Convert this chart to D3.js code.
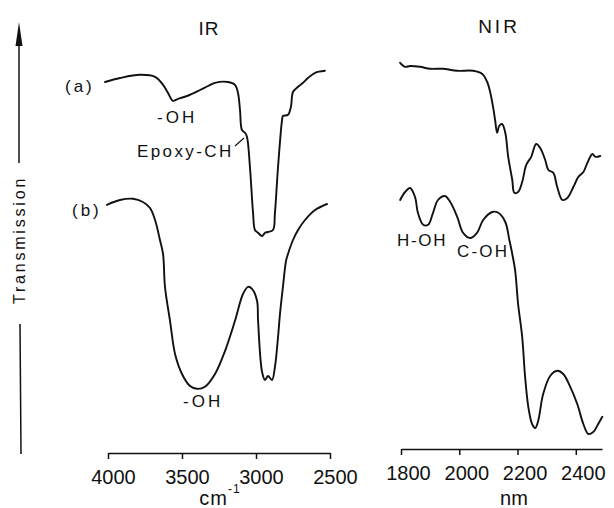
<!DOCTYPE html>
<html>
<head>
<meta charset="utf-8">
<script src="https://cdn.jsdelivr.net/npm/d3@7"></script>
<style>
  html, body { margin: 0; padding: 0; background: #fff; }
  svg { display: block; }
  text { font-family: "Liberation Sans", Arial, sans-serif; fill: #111; }
</style>
</head>
<body>
<svg id="chart" width="614" height="508"></svg>
<script>
// ---------- DATA ----------
// IR panel, wavenumber in cm^-1, transmission in arbitrary units (0-100)
const irAWavenumber = [4020,3919,3784,3682,3628,3595,3561,3527,3466,3378,3324,3277,3189,3142,3122,3108,3095,3074,3061,3041,3020,3007,2986,2959,2939,2919,2885,2872,2851,2824,2818,2784,2764,2750,2716,2682,2649,2601,2534];
const irATransmission = [94.5,95.5,96.3,95.8,93.8,91.8,89.8,90.3,91,92.5,93.5,94.3,94.5,93.8,91.8,87.5,82.5,81.8,80.8,73.3,61.8,57.5,56.8,56,56.8,57,57.5,61.8,73.3,85,86,86.3,88.3,92,93.3,94.3,95.5,96.8,97.3];

const irBWavenumber = [4007,3919,3831,3764,3716,3682,3649,3628,3615,3581,3547,3500,3446,3399,3345,3277,3209,3142,3088,3054,3027,2993,2986,2959,2939,2919,2892,2872,2851,2838,2818,2797,2784,2750,2716,2669,2601,2520];
const irBTransmission = [63.8,65,65.3,64.5,63,60,55,51.5,43.3,34.8,26.5,21.5,18.5,17.8,18.3,21.5,27.3,34.8,41.5,43.3,42.8,39.8,34.8,22,20,21,20,23.3,30.8,36.5,43.3,49.8,51.5,55,57.5,60,62.5,64];

// NIR panel, wavelength in nm
const nirAWavelength = [1797,1814,1831,1865,1900,1944,1993,2048,2079,2096,2106,2116,2123,2130,2137,2147,2158,2168,2182,2189,2202,2216,2230,2247,2264,2278,2295,2306,2323,2336,2354,2371,2392,2409,2426,2440,2457,2467,2484];
const nirATransmission = [99.3,98.3,98.5,98.3,97.8,97.8,97.3,97.3,96.5,94.5,92,88.3,85,81.8,83.5,84,81.8,75.8,70,66.8,67,69.5,73.8,75.8,79,78,75,72.5,71.8,68.3,65,65.5,68.3,70.8,72,74.3,76.5,75.8,76];

const nirBWavelength = [1797,1814,1831,1848,1858,1876,1893,1910,1927,1951,1969,1993,2013,2037,2061,2082,2113,2134,2158,2172,2182,2192,2202,2216,2226,2237,2250,2261,2271,2288,2312,2336,2357,2381,2405,2426,2443,2460,2477,2491];
const nirBTransmission = [65,67,68,65.8,61.8,58.8,58.8,61.8,65,66,64.5,60.8,56.8,55.5,56.8,60,62,61.8,59.5,55,51.5,47.3,39,30.8,20.8,13.3,9,8,9.8,16.5,21,22.3,21.5,18.3,14,9,6.5,7,9,10.8];

const irTicks = [4000, 3500, 3000, 2500];
const irTickLabels = ["4000", "3500", "3000", "2500"];
const nirTicks = [1800, 2000, 2200, 2400];
const nirTickLabels = ["1800", "2000", "2200", "2400"];

// ---------- DRAWING ----------
const svg = d3.select("#chart");
const ink = "#111";

const xIR = d3.scaleLinear().domain([4000, 2500]).range([108, 330]);
const xNIR = d3.scaleLinear().domain([1800, 2490]).range([401, 602]);
const y = d3.scaleLinear().domain([0, 100]).range([460, 60]);

function drawCurve(xs, ys, xScale) {
  const pts = xs.map((v, i) => [v, ys[i]]);
  const line = d3.line()
    .x(d => xScale(d[0]))
    .y(d => y(d[1]))
    .curve(d3.curveCatmullRom.alpha(0.5));
  svg.append("path")
    .attr("d", line(pts))
    .attr("fill", "none")
    .attr("stroke", ink)
    .attr("stroke-width", 1.9)
    .attr("stroke-linejoin", "round")
    .attr("stroke-linecap", "round");
}
drawCurve(irAWavenumber, irATransmission, xIR);
drawCurve(irBWavenumber, irBTransmission, xIR);
drawCurve(nirAWavelength, nirATransmission, xNIR);
drawCurve(nirBWavelength, nirBTransmission, xNIR);

// Axes
function styleAxis(g, dx) {
  g.select(".domain").attr("stroke", ink).attr("stroke-width", 1.5);
  g.selectAll(".tick line").attr("stroke", ink).attr("stroke-width", 1.5);
  g.selectAll(".tick text")
    .attr("fill", ink)
    .attr("dx", dx)
    .style("font-size", "20px")
    .style("font-family", '"Liberation Sans", Arial, sans-serif');
}
const irAxis = d3.axisBottom(xIR)
  .tickValues(irTicks)
  .tickFormat((d, i) => irTickLabels[i])
  .tickSize(6).tickSizeOuter(0).tickPadding(11);
svg.append("g").attr("transform", "translate(0,453)").call(irAxis)
  .call(g => styleAxis(g, 5));

const nirAxis = d3.axisBottom(xNIR)
  .tickValues(nirTicks)
  .tickFormat((d, i) => nirTickLabels[i])
  .tickSize(6).tickSizeOuter(0).tickPadding(11);
svg.append("g").attr("transform", "translate(0,449)").call(nirAxis)
  .call(g => styleAxis(g, 7));

// Axis unit labels
const cm = svg.append("text").attr("x", 220).attr("y", 505)
  .attr("text-anchor", "middle").style("font-size", "20px").style("letter-spacing", "1px");
cm.append("tspan").text("cm");
cm.append("tspan").attr("dy", -12).style("font-size", "12px").text("-1");

svg.append("text").attr("x", 514).attr("y", 505)
  .attr("text-anchor", "middle").style("font-size", "20px").text("nm");

// Vertical transmission arrow
svg.append("line").attr("x1", 19).attr("y1", 40).attr("x2", 19).attr("y2", 163)
  .attr("stroke", ink).attr("stroke-width", 1.5);
svg.append("line").attr("x1", 20).attr("y1", 324).attr("x2", 21).attr("y2", 454)
  .attr("stroke", ink).attr("stroke-width", 1.5);
svg.append("path").attr("d", "M19,22 L15.5,46 L22.5,46 Z").attr("fill", ink);
svg.append("text")
  .attr("transform", "translate(25,240) rotate(-90)")
  .attr("text-anchor", "middle")
  .style("font-size", "16px").style("letter-spacing", "2.8px")
  .text("Transmission");

// Panel titles
svg.append("text").attr("x", 209).attr("y", 35).attr("text-anchor", "middle")
  .style("font-size", "19px").style("letter-spacing", "1px").text("IR");
svg.append("text").attr("x", 499).attr("y", 33).attr("text-anchor", "middle")
  .style("font-size", "19px").style("letter-spacing", "3px").text("NIR");

// Annotations
function label(txt, x, yy, ls, anchor) {
  svg.append("text").attr("x", x).attr("y", yy)
    .attr("text-anchor", anchor || "start")
    .style("font-size", "17px").style("letter-spacing", ls + "px")
    .text(txt);
}
label("(a)", 65, 92, 3);
label("(b)", 72, 216, 3);
label("-OH", 157, 123, 3);
label("Epoxy-CH", 137, 157, 2.4);
label("-OH", 183, 407, 3);
label("H-OH", 397, 246, 1.7);
label("C-OH", 457, 257, 2.2);

// Leader line for Epoxy-CH
svg.append("line").attr("x1", 235).attr("y1", 146).attr("x2", 244).attr("y2", 138)
  .attr("stroke", ink).attr("stroke-width", 1.2);
</script>
</body>
</html>
